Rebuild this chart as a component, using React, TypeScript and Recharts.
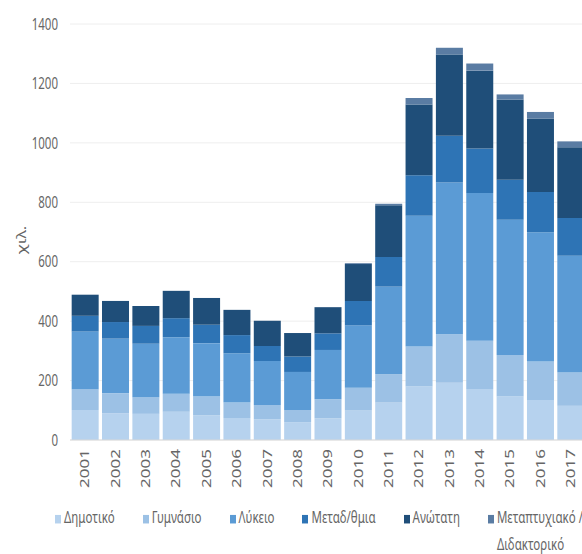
import React from 'react';
import { BarChart, Bar, XAxis, YAxis, CartesianGrid, Legend } from 'recharts';

// Students (thousands) by education level, 2001–2017
const years = ['2001', '2002', '2003', '2004', '2005', '2006', '2007', '2008', '2009', '2010', '2011', '2012', '2013', '2014', '2015', '2016', '2017'];
const dimotiko = [101, 90, 88, 95, 83, 74, 70, 60, 73, 99, 126, 180, 193, 172, 146, 135, 115];
const gymnasio = [70, 67, 56, 61, 63, 52, 48, 41, 64, 77, 96, 135, 163, 162, 140, 129, 112];
const lykeio = [194, 184, 180, 190, 180, 166, 148, 128, 166, 210, 294, 440, 511, 497, 455, 435, 393];
const metadef = [53, 56, 60, 64, 62, 61, 50, 52, 56, 82, 100, 136, 157, 150, 135, 136, 127];
const anotati = [71, 71, 67, 92, 90, 85, 85, 79, 88, 124, 174, 238, 273, 262, 270, 247, 238];
const metaptyx = [0, 0, 0, 0, 0, 0, 0, 0, 0, 3, 5, 22, 23, 24, 17, 22, 20];

const yTicks = [0, 200, 400, 600, 800, 1000, 1200, 1400];

const series = [
  { key: 'dimotiko', name: 'Δημοτικό', color: '#B6D2EE' },
  { key: 'gymnasio', name: 'Γυμνάσιο', color: '#9CC1E5' },
  { key: 'lykeio', name: 'Λύκειο', color: '#5B9BD5' },
  { key: 'metadef', name: 'Μεταδ/θμια', color: '#2E74B5' },
  { key: 'anotati', name: 'Ανώτατη', color: '#1F4E79' },
  { key: 'metaptyx', name: 'Μεταπτυχιακό / Διδακτορικό', color: '#5A7CA3' },
];

const rows = years.map((year, i) => ({
  year,
  dimotiko: dimotiko[i],
  gymnasio: gymnasio[i],
  lykeio: lykeio[i],
  metadef: metadef[i],
  anotati: anotati[i],
  metaptyx: metaptyx[i],
}));

const FONT = '"Noto Sans", "Open Sans", sans-serif';
const TEXT = '#666666';
const STRETCH = 1.42;

function XTick(props: any) {
  const { x, y, payload } = props;
  return (
    <g transform={`translate(${x},${y + 1}) scale(1,${STRETCH}) rotate(-90)`}>
      <text x={0} y={0} dy="0.35em" textAnchor="end" fill={TEXT} fontSize={12} fontFamily={FONT}>
        {payload.value}
      </text>
    </g>
  );
}

function YTick(props: any) {
  const { x, y, payload } = props;
  return (
    <g transform={`translate(${x - 4},${y}) scale(1,${STRETCH})`}>
      <text x={0} y={0} dy="0.35em" textAnchor="end" fill={TEXT} fontSize={11.5} fontFamily={FONT}>
        {payload.value}
      </text>
    </g>
  );
}

function UnitLabel(props: any) {
  const vb = props.viewBox || { x: 0, y: 0, width: 0, height: 0 };
  const cx = vb.x + 22;
  const cy = vb.y + vb.height / 2 + 8;
  return (
    <g transform={`translate(${cx},${cy}) scale(1,${STRETCH}) rotate(-90)`}>
      <text x={0} y={0} dy="0.35em" textAnchor="middle" fill={TEXT} fontSize={12} fontFamily={FONT}>
        χιλ.
      </text>
    </g>
  );
}

function LegendBox() {
  return (
    <div
      style={{
        display: 'flex',
        paddingLeft: 55,
        gap: 28,
        transform: `scaleY(${STRETCH})`,
        transformOrigin: '0 0',
        fontFamily: FONT,
        fontSize: 11.5,
        color: TEXT,
        lineHeight: '18.5px',
      }}
    >
      {series.map((s) => {
        const parts = s.name.split(' / ');
        return (
          <div key={s.key} style={{ display: 'flex', alignItems: 'flex-start', flex: '0 0 auto' }}>
            <span
              style={{
                display: 'inline-block',
                width: 6,
                height: 6,
                marginTop: 6.5,
                marginRight: 3,
                background: s.color,
                flex: '0 0 6px',
              }}
            />
            <span style={{ whiteSpace: 'nowrap' }}>
              {parts.length > 1 ? (
                <>
                  {parts[0] + ' /'}
                  <br />
                  {parts[1]}
                </>
              ) : (
                s.name
              )}
            </span>
          </div>
        );
      })}
    </div>
  );
}

export default function App() {
  return (
    <div style={{ position: 'absolute', left: 0, top: 0, width: 582, height: 554, overflow: 'hidden', background: '#fff' }}>
      <BarChart width={600} height={554} data={rows} margin={{ top: 24, right: 14, bottom: 0, left: 0 }} barCategoryGap="5.5%">
        <CartesianGrid vertical={false} stroke="#EEEEEE" />
        <XAxis
          dataKey="year"
          height={114}
          interval={0}
          tickLine={false}
          axisLine={{ stroke: '#D9D9D9' }}
          tick={<XTick />}
        />
        <YAxis
          width={70}
          domain={[0, 1400]}
          ticks={yTicks}
          axisLine={false}
          tickLine={false}
          tick={<YTick />}
          label={<UnitLabel />}
        />
        <Legend
          layout="horizontal"
          verticalAlign="middle"
          align="center"
          wrapperStyle={{ top: 505, left: 0, width: 700 }}
          content={<LegendBox />}
        />
        {series.map((s) => (
          <Bar key={s.key} dataKey={s.key} name={s.name} stackId="a" fill={s.color} isAnimationActive={false} />
        ))}
      </BarChart>
    </div>
  );
}
